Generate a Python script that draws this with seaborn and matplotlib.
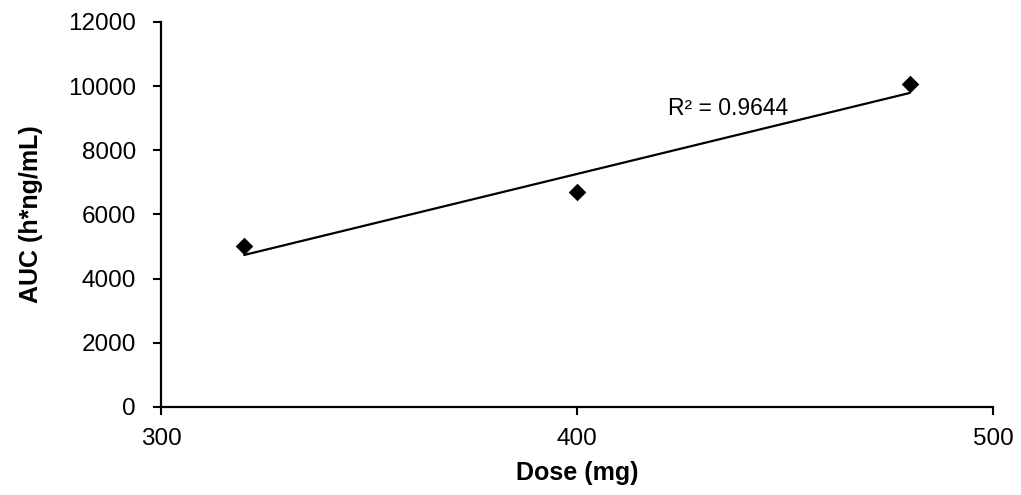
import matplotlib
matplotlib.use("Agg")
import matplotlib.pyplot as plt
import seaborn as sns
import pandas as pd

# Dose vs. exposure
dose_mg = [320, 400, 480]
auc = [5020, 6700, 10070]
r2_label = "R\u00b2 = 0.9644"

df = pd.DataFrame({"Dose (mg)": dose_mg, "AUC (h*ng/mL)": auc})

sns.set_style("white", {"text.color": "black", "axes.labelcolor": "black",
                        "xtick.color": "black", "ytick.color": "black"})
plt.rcParams["font.family"] = ["Liberation Sans", "DejaVu Sans"]

fig = plt.figure(figsize=(10.21, 4.95), dpi=100)
ax = fig.add_axes([0.1577, 0.1778, 0.8149, 0.7778])

# linear trendline over the observed dose range
sns.regplot(data=df, x="Dose (mg)", y="AUC (h*ng/mL)", scatter=False, ci=None,
            truncate=True, color="black", line_kws={"linewidth": 1.6}, ax=ax)
sns.scatterplot(data=df, x="Dose (mg)", y="AUC (h*ng/mL)", marker="D", s=80,
                color="black", edgecolor="black", linewidth=0, ax=ax, zorder=3)

ax.text(421.9, 9300, r2_label, fontsize=16.5, va="center", ha="left", color="black")

ax.set_xlim(300, 500)
ax.set_ylim(0, 12000)
ax.set_xticks([300, 400, 500])
ax.set_yticks(range(0, 12001, 2000))
ax.tick_params(axis="both", labelsize=17.5, direction="out", length=6, width=1.5,
               color="black", labelcolor="black", left=True, bottom=True)
ax.tick_params(axis="y", pad=12)
ax.tick_params(axis="x", pad=9)

for side in ["top", "right"]:
    ax.spines[side].set_visible(False)
for side in ["left", "bottom"]:
    ax.spines[side].set_color("black")
    ax.spines[side].set_linewidth(1.6)

ax.set_xlabel("Dose (mg)", fontsize=18, fontweight="bold", labelpad=8, color="black")
ax.set_ylabel("AUC (h*ng/mL)", fontsize=18, fontweight="bold", labelpad=18, color="black")

fig.savefig("out.png", dpi=100)
